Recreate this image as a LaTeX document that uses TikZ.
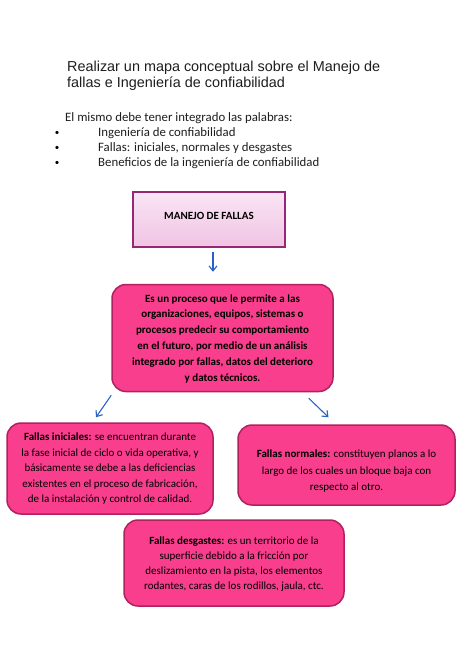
\documentclass[tikz,border=0pt]{standalone}
\usepackage{fontspec}
\setmainfont{Carlito}
\newfontfamily\arialf{Liberation Sans}
\usetikzlibrary{arrows.meta}
\definecolor{hotpink}{RGB}{248,62,140}
\definecolor{pinkedge}{RGB}{176,34,94}
\definecolor{lighttop}{RGB}{250,228,244}
\definecolor{lightbot}{RGB}{240,196,228}
\definecolor{purpleedge}{RGB}{150,40,115}
\definecolor{arrowblue}{RGB}{40,100,200}
\definecolor{titlegray}{RGB}{30,30,30}
\begin{document}
\begin{tikzpicture}[x=1pt,y=-1pt,
  pinkbox/.style={draw=pinkedge, line width=1.5pt, fill=hotpink, rounded corners=14pt, inner sep=0pt},
  lightbox/.style={draw=purpleedge, line width=1.2pt, top color=lighttop, bottom color=lightbot, inner sep=0pt},
  boxtext/.style={align=center, inner sep=0pt, text=black},
  titletext/.style={anchor=base west, inner sep=0pt, font=\arialf\fontsize{14.4}{16.5}\selectfont, text=titlegray},
  bodytext/.style={anchor=base west, inner sep=0pt, font=\fontsize{12.8}{15}\selectfont, text=titlegray},
  bullettext/.style={anchor=base, inner sep=0pt, font=\fontsize{9}{15}\selectfont, text=black},
  arr/.style={draw=arrowblue, line width=1.1pt, -{Straight Barb[length=5pt,width=8pt]}}]
\useasboundingbox (0,0) rectangle (474,670);
\fill[white] (0,0) rectangle (474,670);

% header texts
\node[titletext] (title1) at (67,71.5) {Realizar un mapa conceptual sobre el Manejo de};
\node[titletext] (title2) at (67,87) {fallas e Ingeniería de confiabilidad};
\node[bodytext] (intro) at (65,121) {El mismo debe tener integrado las palabras:};
\node[bullettext] (dot1) at (57,135) {•};
\node[bullettext] (dot2) at (57,150) {•};
\node[bullettext] (dot3) at (57,165) {•};
\node[bodytext] (item1) at (98,136) {Ingeniería de confiabilidad};
\node[bodytext] (item2) at (98,151) {Fallas: iniciales, normales y desgastes};
\node[bodytext] (item3) at (98,166) {Beneficios de la ingeniería de confiabilidad};

% boxes
\node[lightbox, minimum width=152, minimum height=55] (manejo) at (209,219.5) {};
\node[boxtext, font=\bfseries\fontsize{11}{15}\selectfont] (manejotxt) at (209,216) {MANEJO DE FALLAS};

\node[pinkbox, minimum width=221, minimum height=107] (central) at (222.5,338) {};
\node[boxtext, font=\bfseries\fontsize{11}{15.8}\selectfont] (centraltxt) at (222.5,338.5) {Es un proceso que le permite a las\\
organizaciones, equipos, sistemas o\\
procesos predecir su comportamiento\\
en el futuro, por medio de un análisis\\
integrado por fallas, datos del deterioro\\
y datos técnicos.};

\node[pinkbox, minimum width=206, minimum height=91] (iniciales) at (110,468.5) {};
\node[boxtext, font=\fontsize{11}{15.5}\selectfont] (inicialestxt) at (110,469) {\textbf{Fallas iniciales:} se encuentran durante\\
la fase inicial de ciclo o vida operativa, y\\
básicamente se debe a las deficiencias\\
existentes en el proceso de fabricación,\\
de la instalación y control de calidad.};

\node[pinkbox, minimum width=217, minimum height=80] (normales) at (346.5,465) {};
\node[boxtext, font=\fontsize{11}{16.5}\selectfont] (normalestxt) at (346.5,471.5) {\textbf{Fallas normales:} constituyen planos a lo\\
largo de los cuales un bloque baja con\\
respecto al otro.};

\node[pinkbox, minimum width=220, minimum height=86] (desgastes) at (234,563) {};
\node[boxtext, font=\fontsize{11}{15}\selectfont] (desgastestxt) at (234,564.5) {\textbf{Fallas desgastes:} es un territorio de la\\
superficie debido a la fricción por\\
deslizamiento en la pista, los elementos\\
rodantes, caras de los rodillos, jaula, ctc.};

% arrows
\draw[arr, shorten <=4pt, shorten >=12pt] ([xshift=4pt]manejo.south) -- ([xshift=4pt]manejo.south |- central.north);
\draw[arr] ([shift={(0pt,-3pt)}]central.south west) -- ([shift={(-14pt,5pt)}]iniciales.north);
\draw[arr] ([shift={(-25pt,-6pt)}]central.south east) -- ([shift={(-18pt,7pt)}]normales.north);
\end{tikzpicture}
\end{document}
